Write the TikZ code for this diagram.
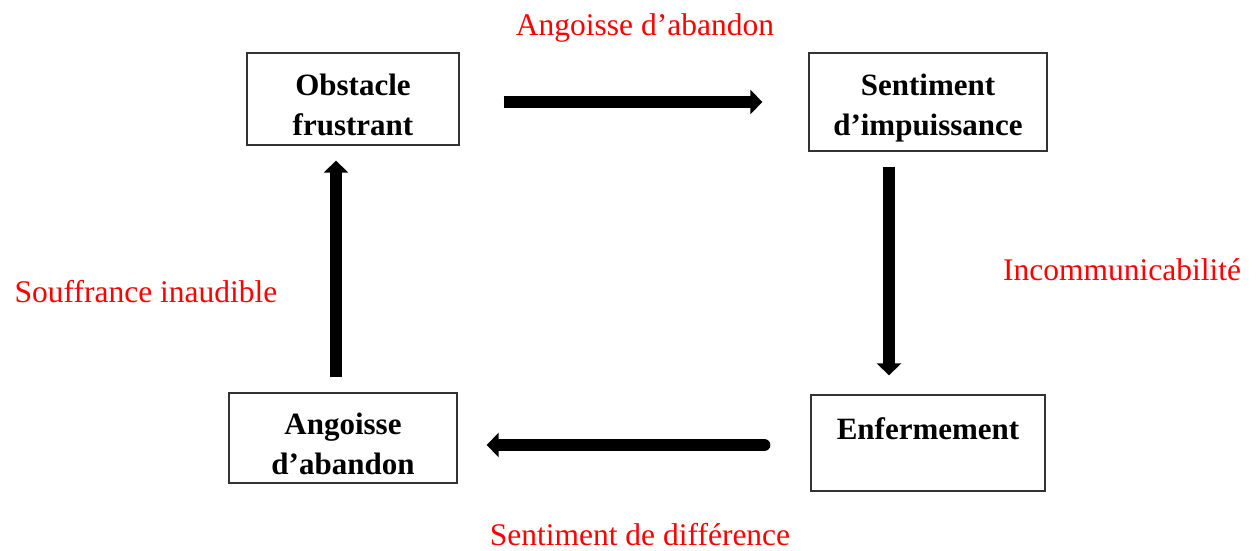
\documentclass[tikz,border=0pt]{standalone}
\usepackage{fontspec}
\setmainfont{Liberation Serif}
\usetikzlibrary{arrows.meta}
\newcommand\boxstrut{\rule{0pt}{33pt}}
\begin{document}
\begin{tikzpicture}[x=1pt,y=-1pt,
  box/.style={draw=black!80,line width=1.3pt,align=center,inner sep=0pt,
    font=\fontsize{31}{40}\selectfont\bfseries},
  lbl/.style={text=red,inner sep=0pt,font=\fontsize{31.5}{36}\selectfont},
  flow/.style={line width=12pt,-{Triangle[width=24pt,length=12pt]}}]
\useasboundingbox (0,0) rectangle (1258,551);
\node[box,minimum width=212pt,minimum height=92pt] (obst) at (353,99) {\boxstrut Obstacle\\frustrant};
\node[box,minimum width=238pt,minimum height=98pt] (sent) at (928,102) {\boxstrut Sentiment\\d’impuissance};
\node[box,minimum width=228pt,minimum height=90pt] (ang) at (343,438) {\boxstrut Angoisse\\d’abandon};
\node[box,minimum width=234pt,minimum height=96pt] (enf) at (928,443) {\boxstrut Enfermement\\\mbox{}};
\node[lbl] (l1) at (645,28) {Angoisse d’abandon};
\node[lbl] (l2) at (1122,270) {Incommunicabilité};
\node[lbl] (l3) at (146,292) {Souffrance inaudible};
\node[lbl] (l4) at (640,535) {Sentiment de différence};
\draw[flow,shorten <=44pt,shorten >=46pt] (obst.east |- sent.west) -- (sent.west);
\draw[flow,shorten <=15pt,shorten >=19pt] ([xshift=-39pt]sent.south) -- ([xshift=-39pt]enf.north);
\draw[flow,line cap=round,shorten <=46pt,shorten >=29pt] ([yshift=-2pt]enf.west) -- ([yshift=-2pt]enf.west -| ang.east);
\draw[flow,shorten <=15pt,shorten >=15pt] ([xshift=-7pt]ang.north) -- ([xshift=-7pt]ang.north |- obst.south);
\end{tikzpicture}
\end{document}
